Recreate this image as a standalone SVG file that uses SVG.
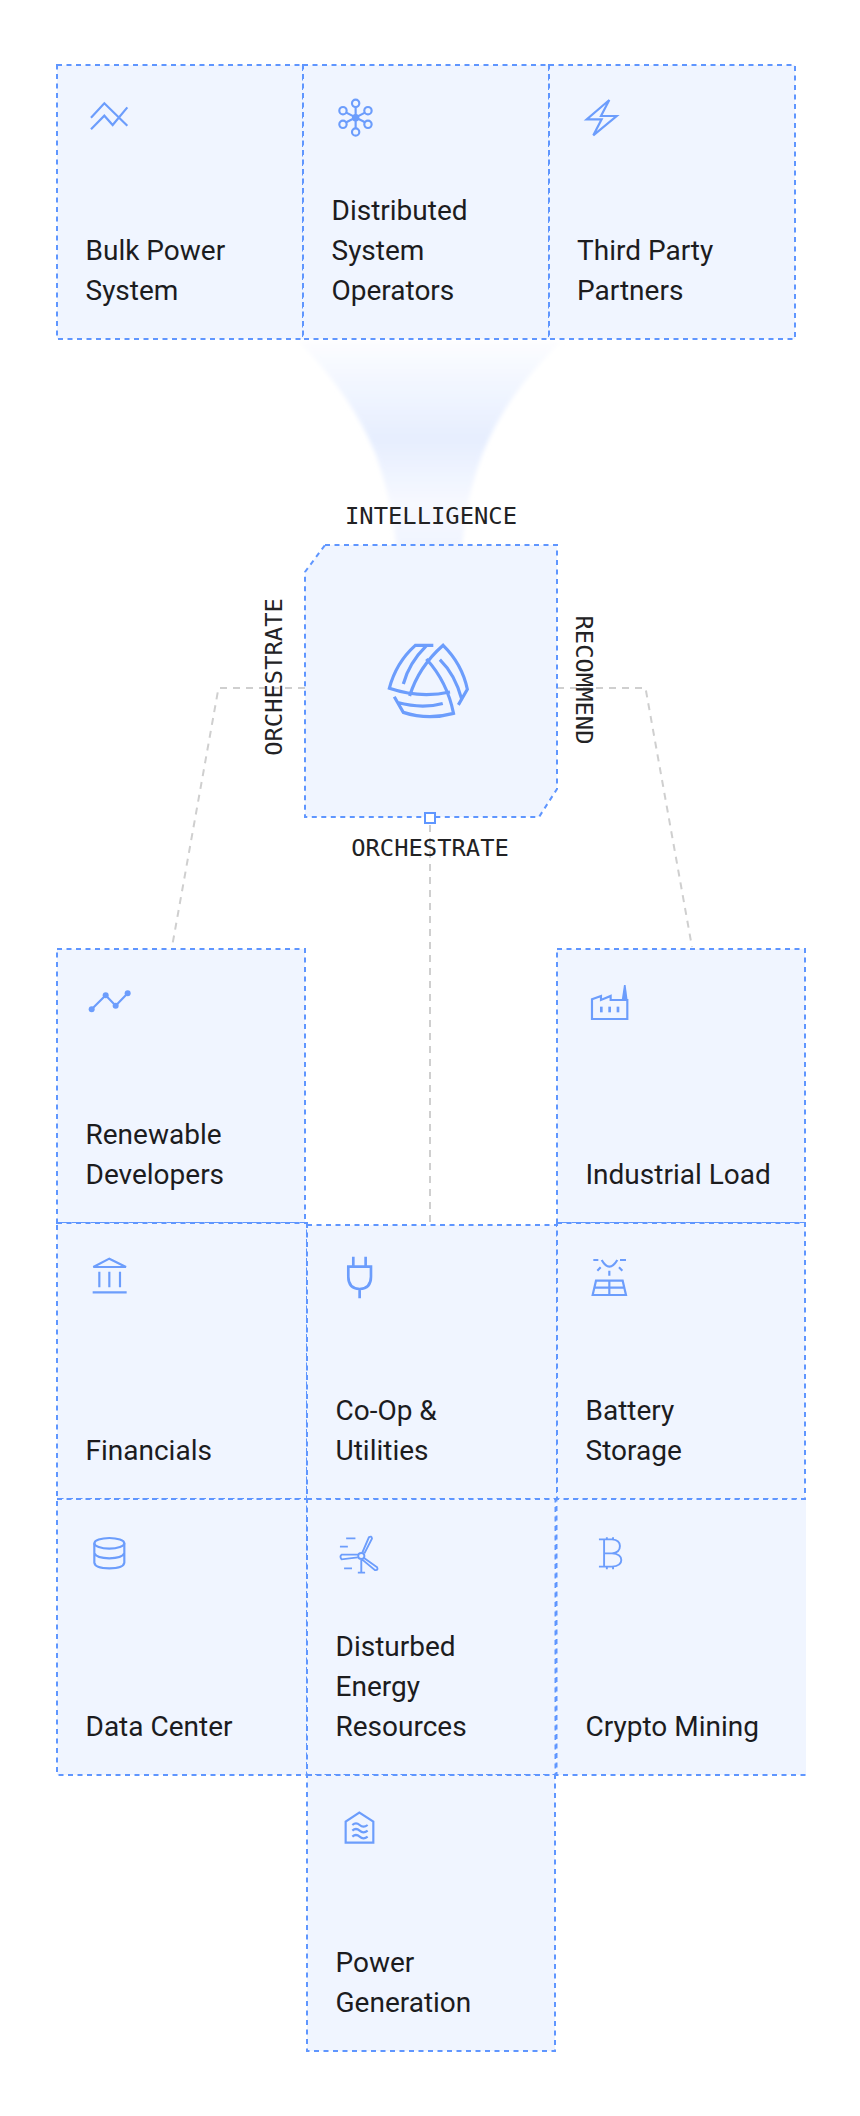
<svg xmlns="http://www.w3.org/2000/svg" xmlns:xlink="http://www.w3.org/1999/xlink" width="860" height="2116" viewBox="0 0 860 2116">
<style>
.cell{fill:#f0f5ff}
.bd{fill:none;stroke:#5f96ff;stroke-width:2;stroke-dasharray:5 4.500}
.t{font-family:Roboto,"Liberation Sans",sans-serif;font-size:28px;fill:#1c1c1e}
.m{font-family:"DejaVu Sans Mono","Liberation Mono",monospace;font-size:23.800px;fill:#222224}
.ic{fill:none;stroke:#6c9dfc;stroke-width:6.500;stroke-linejoin:miter}
.con{fill:none;stroke:#cfcfcf;stroke-width:2;stroke-dasharray:7 6}
</style>
<defs>
<linearGradient id="fun" x1="0" y1="0" x2="0" y2="1">
<stop offset="0" stop-color="#fdfdff"/>
<stop offset=".12" stop-color="#f6f9ff"/>
<stop offset=".47" stop-color="#e6eefe"/>
<stop offset=".78" stop-color="#f7f9ff"/>
<stop offset="1" stop-color="#f0f4ff"/>
</linearGradient>
<filter id="soft" x="-10%" y="-10%" width="120%" height="120%"><feGaussianBlur stdDeviation="2"/></filter>
<path id="arm" d="M100,192 Q116,130 170,76 M190,76 L136,76 Q78,128 58,205 Q150,236 240,216"/>
</defs>
<rect width="860" height="2116" fill="#fff"/>
<path id="funnel" d="M298,341 L562,341 Q505,395 482,455 Q465,500 462,550 L397,550 Q392,500 376,455 Q352,395 298,341 Z" fill="url(#fun)" filter="url(#soft)"/>
<g id="connectors">
<path class="con" d="M305,688 H218.500 L172,947"/>
<path class="con" d="M557,688 H645.500 L692,947"/>
<path class="con" d="M430,825 V1225"/>
</g>
<g id="bulk-power-system">
<rect class="cell" x="57" y="65" width="246" height="274"/><rect class="bd" x="57" y="65" width="246" height="274"/>
<g class="ic" transform="translate(40,50) scale(.3333)"><path d="M153,203 L193,160 L262,227 M153,238 L193,197 L218,225 L262,172"/></g>
<text class="t" x="85.500" y="260">Bulk Power</text><text class="t" x="85.500" y="300">System</text>
</g>
<g id="distributed-system-operators">
<rect class="cell" x="303" y="65" width="246" height="274"/><rect class="bd" x="303" y="65" width="246" height="274"/>
<g class="ic" transform="translate(40,50) scale(.3333)"><circle cx="947" cy="160" r="11"/><circle cx="947" cy="246" r="11"/><circle cx="909" cy="182" r="11"/><circle cx="984" cy="182" r="11"/><circle cx="909" cy="223" r="11"/><circle cx="984" cy="223" r="11"/><circle cx="947" cy="203" r="8"/><path d="M947,171 V235 M919,188 L975,217 M975,188 L919,217"/></g>
<text class="t" x="331.500" y="220">Distributed</text><text class="t" x="331.500" y="260">System</text><text class="t" x="331.500" y="300">Operators</text>
</g>
<g id="third-party-partners">
<rect class="cell" x="549" y="65" width="246" height="274"/><rect class="bd" x="549" y="65" width="246" height="274"/>
<g class="ic" transform="translate(430,50) scale(.3333)"><path d="M538,150 L470,208 L515,208 L490,256 L560,198 L513,198 Z"/></g>
<text class="t" x="577" y="260">Third Party</text><text class="t" x="577" y="300">Partners</text>
</g>
<g id="core">
<path class="cell" d="M325,545 H557 V789 L539,817 H305 V572 Z"/>
<path class="bd" d="M325,545 H557 V789 L539,817 H305 V572 Z"/>
<g transform="translate(370,620) scale(.3333)" fill="none" stroke="#6c9dfc" stroke-width="9.500">
<use xlink:href="#arm" href="#arm"/>
<use xlink:href="#arm" href="#arm" transform="rotate(120 176 187)"/>
<use xlink:href="#arm" href="#arm" transform="rotate(240 176 187)"/>
</g>
<rect x="425" y="813" width="10" height="10" fill="#fff" stroke="#5f96ff" stroke-width="2"/>
<text class="m" x="431" y="524" text-anchor="middle">INTELLIGENCE</text>
<text class="m" x="430" y="856" text-anchor="middle">ORCHESTRATE</text>
<text class="m" transform="translate(282,677) rotate(-90)" text-anchor="middle">ORCHESTRATE</text>
<text class="m" transform="translate(576,680) rotate(90)" text-anchor="middle">RECOMMEND</text>
</g>
<g id="renewable-developers">
<rect class="cell" x="57" y="949" width="248" height="274"/><rect class="bd" x="57" y="949" width="248" height="274"/>
<g class="ic" transform="translate(50,940) scale(.3333)"><path d="M125,208 L167,166 L197,197 L233,160"/><g fill="#6c9dfc" stroke="none"><circle cx="125" cy="208" r="9"/><circle cx="167" cy="166" r="9"/><circle cx="197" cy="197" r="9"/><circle cx="233" cy="160" r="9"/></g></g>
<text class="t" x="85.500" y="1144">Renewable</text><text class="t" x="85.500" y="1184">Developers</text>
</g>
<g id="industrial-load">
<rect class="cell" x="557" y="949" width="248" height="274"/><rect class="bd" x="557" y="949" width="248" height="274"/>
<g class="ic" transform="translate(440,940) scale(.3333)"><path d="M456,237 V178 L483,168 V180 L512,168 V180 H545 H562 V237 Z"/><path fill="#6c9dfc" stroke="none" d="M545,182 L552,135 H557 L563,182 Z"/><g fill="#6c9dfc" stroke="none"><rect x="480" y="200" width="8" height="17"/><rect x="505" y="200" width="8" height="17"/><rect x="530" y="200" width="8" height="17"/></g></g>
<text class="t" x="585.500" y="1184">Industrial Load</text>
</g>
<g id="financials">
<rect class="cell" x="57" y="1223" width="250" height="276"/><rect class="bd" x="57" y="1223" width="250" height="276"/>
<g class="ic" transform="translate(50,1220) scale(.3333)"><path d="M130,141 L178,116 L228,141 Z M148,155 V202 M178,155 V202 M210,155 V202 M128,217 H230"/></g>
<text class="t" x="85.500" y="1460">Financials</text>
</g>
<g id="co-op-utilities">
<rect class="cell" x="307" y="1225" width="250" height="274"/><rect class="bd" x="307" y="1225" width="250" height="274"/>
<g class="ic" transform="translate(50,1220) scale(.3333)" style="stroke-width:8"><path d="M910,110 V140 M947,110 V140 M895,140 H963 V170 Q963,205 929,207 Q895,205 895,170 Z M929,207 V235"/></g>
<text class="t" x="335.500" y="1420">Co-Op &amp;</text><text class="t" x="335.500" y="1460">Utilities</text>
</g>
<g id="battery-storage">
<rect class="cell" x="557" y="1223" width="248" height="276"/><rect class="bd" x="557" y="1223" width="248" height="276"/>
<g class="ic" transform="translate(570,1240) scale(.3333)"><path d="M95,60 Q118,100 142,60 M70,60 H85 M150,60 H168 M82,92 L92,82 M147,82 L157,92 M118,92 V107 M78,122 H158 L168,165 H68 Z M73,143 H163 M118,122 V165"/></g>
<text class="t" x="585.500" y="1420">Battery</text><text class="t" x="585.500" y="1460">Storage</text>
</g>
<g id="data-center">
<rect class="cell" x="57" y="1499" width="250" height="276"/><rect class="bd" x="57" y="1499" width="250" height="276"/>
<g class="ic" transform="translate(70,1515) scale(.3333)"><ellipse cx="118" cy="85" rx="45" ry="16"/><path d="M73,85 V143 Q75,160 118,160 Q161,160 163,143 V85 M73,115 Q80,130 118,130 Q156,130 163,115"/></g>
<text class="t" x="85.500" y="1736">Data Center</text>
</g>
<g id="disturbed-energy-resources">
<rect class="cell" x="307" y="1499" width="248.500" height="276"/><rect class="bd" x="307" y="1499" width="248.500" height="276"/>
<g class="ic" transform="translate(290,1480) scale(.3444,.3333)" style="stroke-width:5.500"><circle cx="207" cy="228" r="9"/><path d="M210,218 L229,172 Q237,166 238,176 L216,220 M197,232 L150,238 Q143,230 150,224 L198,224 M215,234 L253,262 Q257,272 246,270 L209,238 M207,240 V278 M197,278 H218 M163,175 H190 M145,200 H168 M157,265 H180"/></g>
<text class="t" x="335.500" y="1656">Disturbed</text><text class="t" x="335.500" y="1696">Energy</text><text class="t" x="335.500" y="1736">Resources</text>
</g>
<g id="crypto-mining">
<rect class="cell" x="556.500" y="1499" width="249.500" height="276"/><path class="bd" d="M806,1499 H556.500 V1775 H806"/>
<g class="ic" transform="translate(290,1480) scale(.3444,.3333)" style="stroke-width:5.500"><path d="M897,178 H935 Q958,180 958,198 Q958,218 935,220 H912 M935,220 Q962,222 962,240 Q962,258 935,260 H897 M912,178 V260 M920,172 V178 M938,172 V178 M920,260 V268 M938,260 V268"/></g>
<text class="t" x="585.500" y="1736">Crypto Mining</text>
</g>
<g id="power-generation">
<rect class="cell" x="307" y="1775" width="248" height="276"/><rect class="bd" x="307" y="1775" width="248" height="276"/>
<g class="ic" transform="translate(290,1780) scale(.3333)"><path d="M167,188 V125 L208,98 L250,125 V188 Z"/><path d="M187,135 Q198,125 209,135 T233,135 M187,152 Q198,142 209,152 T233,152 M187,170 Q198,160 209,170 T233,170"/></g>
<text class="t" x="335.500" y="1972">Power</text><text class="t" x="335.500" y="2012">Generation</text>
</g>
</svg>
